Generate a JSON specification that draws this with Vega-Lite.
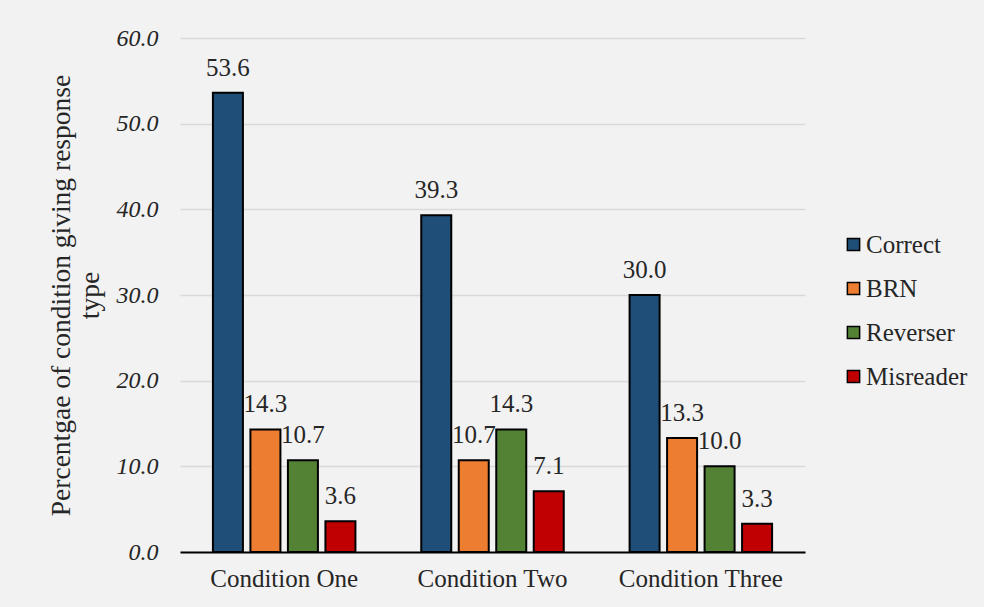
{
  "$schema": "https://vega.github.io/schema/vega-lite/v6.json",
  "autosize": {"type": "none"},
  "width": 625,
  "height": 514,
  "padding": {"left": 180, "top": 38, "right": 179, "bottom": 55},
  "background": "#f2f2f2",
  "config": {
    "font": "Liberation Serif",
    "view": {"stroke": null},
    "axis": {"labelFont": "Liberation Serif", "titleFont": "Liberation Serif", "labelColor": "#262626", "titleColor": "#262626"},
    "legend": {"labelFont": "Liberation Serif"},
    "text": {"font": "Liberation Serif"}
  },
  "data": {
    "values": [
      {"condition": "Condition One", "type": "Correct", "pct": 53.6},
      {"condition": "Condition One", "type": "BRN", "pct": 14.3},
      {"condition": "Condition One", "type": "Reverser", "pct": 10.7},
      {"condition": "Condition One", "type": "Misreader", "pct": 3.6},
      {"condition": "Condition Two", "type": "Correct", "pct": 39.3},
      {"condition": "Condition Two", "type": "BRN", "pct": 10.7},
      {"condition": "Condition Two", "type": "Reverser", "pct": 14.3},
      {"condition": "Condition Two", "type": "Misreader", "pct": 7.1},
      {"condition": "Condition Three", "type": "Correct", "pct": 30.0},
      {"condition": "Condition Three", "type": "BRN", "pct": 13.3},
      {"condition": "Condition Three", "type": "Reverser", "pct": 10.0},
      {"condition": "Condition Three", "type": "Misreader", "pct": 3.3}
    ]
  },
  "encoding": {
    "x": {
      "field": "condition", "type": "nominal",
      "sort": ["Condition One", "Condition Two", "Condition Three"],
      "scale": {"paddingInner": 0.28, "paddingOuter": 0.14},
      "axis": {
        "title": null, "labelAngle": 0, "labelFontSize": 25, "labelPadding": 14,
        "labelFont": "Liberation Serif",
        "ticks": false, "domainColor": "#000000", "domainWidth": 2, "grid": false
      }
    },
    "xOffset": {
      "field": "type", "type": "nominal",
      "sort": ["Correct", "BRN", "Reverser", "Misreader"],
      "scale": {"paddingInner": 0.2, "paddingOuter": 0.1}
    },
    "y": {
      "field": "pct", "type": "quantitative",
      "scale": {"domain": [0, 60]},
      "axis": {
        "values": [0, 10, 20, 30, 40, 50, 60], "format": ".1f",
        "labelFontSize": 24, "labelFontStyle": "italic", "labelPadding": 22,
        "ticks": false, "domain": false, "gridColor": "#d9d9d9", "gridWidth": 1.5,
        "title": ["Percentgae of condition giving response", "type"],
        "titleFontSize": 27.5, "titleFontWeight": "normal", "titleLineHeight": 29, "titlePadding": 12
      }
    }
  },
  "layer": [
    {
      "mark": {"type": "bar", "stroke": "#000000", "strokeWidth": 2},
      "encoding": {
        "color": {
          "field": "type", "type": "nominal",
          "sort": ["Correct", "BRN", "Reverser", "Misreader"],
          "scale": {"domain": ["Correct", "BRN", "Reverser", "Misreader"], "range": ["#1f4e79", "#ed7d31", "#548235", "#c00000"]},
          "legend": {
            "title": null, "orient": "none", "legendX": 661, "legendY": 194,
            "symbolType": "square", "symbolSize": 150, "symbolStrokeColor": "#000000", "symbolStrokeWidth": 1.5,
            "labelFontSize": 25, "labelColor": "#262626", "labelOffset": 0, "rowPadding": 18,
            "labelFont": "Liberation Serif"
          }
        }
      }
    },
    {
      "mark": {"type": "text", "baseline": "bottom", "dy": -12, "fontSize": 25, "color": "#262626", "font": "Liberation Serif"},
      "encoding": {
        "text": {"field": "pct", "type": "quantitative", "format": ".1f"}
      }
    }
  ]
}
